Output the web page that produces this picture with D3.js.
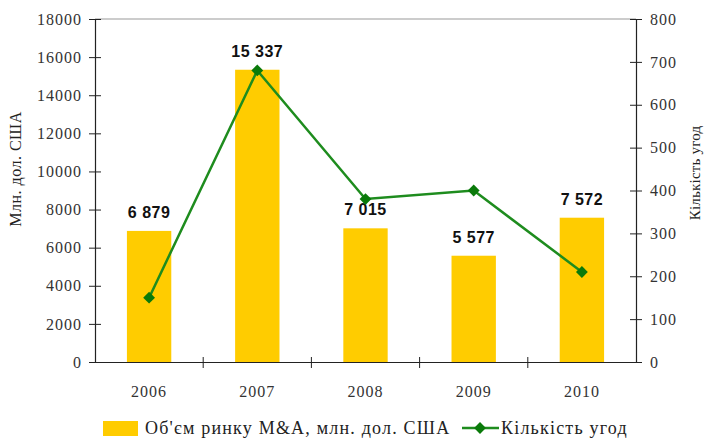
<!DOCTYPE html>
<html>
<head>
<meta charset="utf-8">
<script src="https://cdn.jsdelivr.net/npm/d3@7"></script>
<style>
  body { margin: 0; background: #fff; }
  svg text { font-family: "Liberation Serif", "Times New Roman", serif; }
</style>
</head>
<body>
<div id="chart"></div>
<script>
// chart data
const years = ["2006", "2007", "2008", "2009", "2010"];
const volume = [6879, 15337, 7015, 5577, 7572];
const deals = [150, 680, 380, 400, 210];
const leftTicks = [0, 2000, 4000, 6000, 8000, 10000, 12000, 14000, 16000, 18000];
const rightTicks = [0, 100, 200, 300, 400, 500, 600, 700, 800];

const width = 707, height = 439;
const plotL = 95, plotR = 636, plotT = 19, plotB = 362;

const svg = d3.select("#chart").append("svg")
  .attr("width", width)
  .attr("height", height);

const x = d3.scaleBand()
  .domain(years)
  .range([plotL, plotR])
  .paddingInner(0.59)
  .paddingOuter(0.295);

const band = d3.scaleBand().domain(years).range([plotL, plotR]);

const yL = d3.scaleLinear().domain([0, 18000]).range([plotB, plotT]);
const yR = d3.scaleLinear().domain([0, 800]).range([plotB, plotT]);

// top frame line
svg.append("line")
  .attr("x1", plotL).attr("x2", plotR)
  .attr("y1", plotT).attr("y2", plotT)
  .attr("stroke", "#999").attr("stroke-width", 1);

// bars
svg.selectAll(".bar")
  .data(volume)
  .enter()
  .append("rect")
  .attr("x", (d, i) => x(years[i]))
  .attr("y", d => yL(d))
  .attr("width", x.bandwidth())
  .attr("height", d => plotB - yL(d))
  .attr("fill", "#FFCC00");

// bar labels
const fmt = v => d3.format(",")(v).replace(",", " ");
svg.selectAll(".lbl")
  .data(volume)
  .enter()
  .append("text")
  .attr("x", (d, i) => band(years[i]) + band.bandwidth() / 2)
  .attr("y", d => yL(d) - 13)
  .attr("text-anchor", "middle")
  .style("font-family", "'Liberation Sans', Arial, sans-serif")
  .style("font-weight", "bold")
  .style("font-size", "16px")
  .style("letter-spacing", "0.5px")
  .attr("fill", "#111")
  .text(d => fmt(d));

// left axis
const axL = svg.append("g")
  .attr("transform", `translate(${plotL},0)`)
  .call(d3.axisLeft(yL).tickValues(leftTicks).tickFormat(d3.format("d"))
    .tickSizeInner(6).tickSizeOuter(0).tickPadding(8));
axL.selectAll(".tick line").attr("x2", 6).attr("x1", -6);

// right axis
const axR = svg.append("g")
  .attr("transform", `translate(${plotR},0)`)
  .call(d3.axisRight(yR).tickValues(rightTicks).tickFormat(d3.format("d"))
    .tickSizeInner(6).tickSizeOuter(0).tickPadding(8));
axR.selectAll(".tick line").attr("x1", -6).attr("x2", 6);

// bottom axis with ticks between categories
const axB = svg.append("g")
  .attr("transform", `translate(0,${plotB})`)
  .call(d3.axisBottom(band).tickSize(0).tickPadding(27));
axB.selectAll(".tick text").attr("dy", "0.5em");
axB.selectAll(".sep")
  .data(years.slice(1))
  .enter()
  .append("line")
  .attr("x1", d => band(d)).attr("x2", d => band(d))
  .attr("y1", -5).attr("y2", 6)
  .attr("stroke", "#222");

[axL, axR, axB].forEach(g => {
  g.attr("font-family", null);
  g.select(".domain").attr("stroke", "#222").attr("stroke-width", 1.2);
  g.selectAll(".tick line").attr("stroke", "#222");
  g.selectAll("text")
    .style("font-family", "'Liberation Serif', 'Times New Roman', serif")
    .style("font-size", "16px")
    .style("letter-spacing", "1px")
    .attr("fill", "#333");
});
axL.selectAll(".tick text").attr("dx", "1px");

// line series
const line = d3.line()
  .x((d, i) => band(years[i]) + band.bandwidth() / 2)
  .y(d => yR(d));

svg.append("path")
  .datum(deals)
  .attr("d", line)
  .attr("fill", "none")
  .attr("stroke", "#1E8C1E")
  .attr("stroke-width", 2.5);

const diamond = d3.symbol().type(d3.symbolSquare).size(70);
svg.selectAll(".pt")
  .data(deals)
  .enter()
  .append("path")
  .attr("d", diamond)
  .attr("transform", (d, i) => `translate(${band(years[i]) + band.bandwidth() / 2},${yR(d)}) rotate(45)`)
  .attr("fill", "#0A7A0A");

// axis titles
svg.append("text")
  .attr("transform", "translate(21,169) rotate(-90)")
  .attr("text-anchor", "middle")
  .style("font-size", "16px")
  .style("letter-spacing", "0.5px")
  .attr("fill", "#222")
  .text("Млн. дол. США");

svg.append("text")
  .attr("transform", "translate(700,173) rotate(-90)")
  .attr("text-anchor", "middle")
  .style("font-size", "15px")
  .style("letter-spacing", "0.2px")
  .attr("fill", "#222")
  .text("Кількість угод");

// legend
const lg = svg.append("g");
lg.append("rect")
  .attr("x", 103).attr("y", 421)
  .attr("width", 35).attr("height", 15)
  .attr("fill", "#FFCC00");
lg.append("text")
  .attr("x", 145).attr("y", 434)
  .style("font-size", "18px")
  .style("letter-spacing", "1.2px")
  .attr("fill", "#222")
  .text("Об'єм ринку M&A, млн.  дол. США");
lg.append("line")
  .attr("x1", 462).attr("x2", 499)
  .attr("y1", 428).attr("y2", 428)
  .attr("stroke", "#1E8C1E").attr("stroke-width", 2.5);
lg.append("path")
  .attr("d", diamond)
  .attr("transform", "translate(480,428) rotate(45)")
  .attr("fill", "#0A7A0A");
lg.append("text")
  .attr("x", 501).attr("y", 434)
  .style("font-size", "18px")
  .style("letter-spacing", "1.2px")
  .attr("fill", "#222")
  .text("Кількість угод");
</script>
</body>
</html>
